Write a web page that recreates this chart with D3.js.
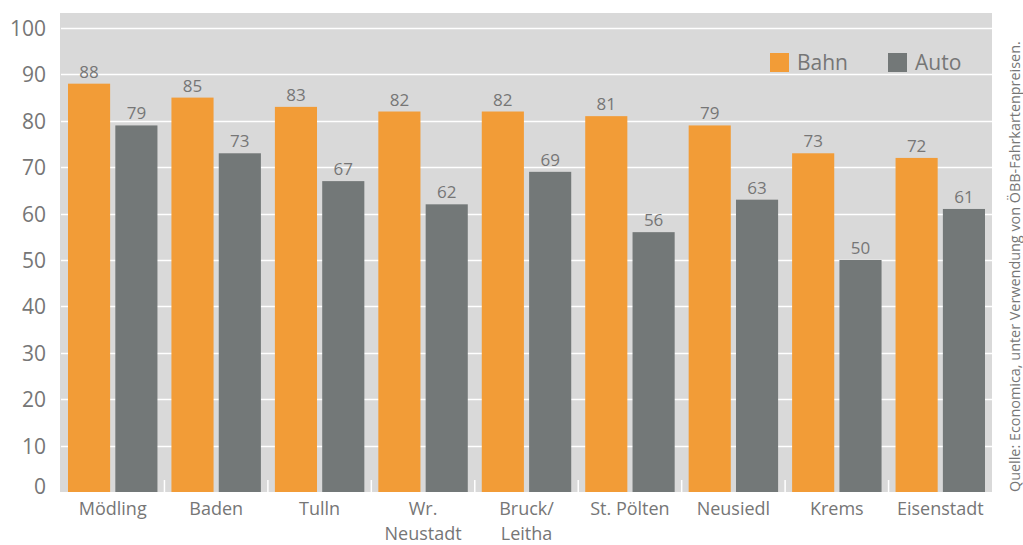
<!DOCTYPE html>
<html><head><meta charset="utf-8">
<script src="https://cdn.jsdelivr.net/npm/d3@7"></script>
<style>body{margin:0;background:#fff}svg text{font-family:"Open Sans",sans-serif;fill:#767676}</style>
</head><body>
<script>
const categories = [["Mödling"],["Baden"],["Tulln"],["Wr.","Neustadt"],["Bruck/","Leitha"],["St. Pölten"],["Neusiedl"],["Krems"],["Eisenstadt"]];
const series = ["Bahn","Auto"];
const bahn = [88,85,83,82,82,81,79,73,72];
const auto = [79,73,67,62,69,56,63,50,61];
const yTicks = [0,10,20,30,40,50,60,70,80,90,100];
const source = "Quelle: Economica, unter Verwendung von ÖBB-Fahrkartenpreisen.";
const colors = {Bahn:"#F29C37", Auto:"#737878"};

const W=1023,H=545;
const svg=d3.select("body").append("svg").attr("width",W).attr("height",H);
const x0=61,x1=992,yTop=13,yBot=492;
const x=d3.scaleBand().domain(d3.range(categories.length)).range([x0,x1]).paddingInner(0).paddingOuter(0);
const xs=d3.scaleBand().domain(series).range([7,x.bandwidth()-7]).paddingInner(0.11);
const y=d3.scaleLinear().domain([0,100]).range([yBot,28]);

svg.append("rect").attr("x",x0-1).attr("y",yTop).attr("width",x1-x0+1).attr("height",yBot-yTop).attr("fill","#D9D9D9");
svg.append("g").selectAll("line").data(yTicks.filter(d=>d>0)).join("line")
  .attr("x1",x0).attr("x2",x1).attr("y1",d=>Math.round(y(d))+0.5).attr("y2",d=>Math.round(y(d))+0.5)
  .attr("stroke","#fff").attr("stroke-width",1.5);
// category tick marks
svg.append("g").selectAll("line").data(d3.range(1,categories.length)).join("line")
  .attr("x1",d=>x(d)).attr("x2",d=>x(d)).attr("y1",yBot-12).attr("y2",yBot)
  .attr("stroke","#fff").attr("stroke-width",1.5);

// y axis labels
const yAxis=d3.axisLeft(y).tickValues(yTicks).tickSize(0).tickPadding(0);
const ya=svg.append("g").attr("transform",`translate(46,0)`).call(yAxis);
ya.select(".domain").remove();
ya.selectAll("text").attr("font-size",21).style("fill","#767676").attr("font-family",null)
  .attr("dy",d=>d===0?"0.05em":"0.36em");

const data=[bahn,auto];
const g=svg.append("g");
series.forEach((s,si)=>{
  const vals=data[si];
  g.append("g").selectAll("rect").data(vals).join("rect")
   .attr("x",(d,i)=>x(i)+xs(s)).attr("width",xs.bandwidth())
   .attr("y",d=>y(d)).attr("height",d=>y(0)-y(d)).attr("fill",colors[s]);
  g.append("g").selectAll("text").data(vals).join("text")
   .attr("x",(d,i)=>x(i)+xs(s)+xs.bandwidth()/2).attr("y",d=>y(d)-6)
   .attr("text-anchor","middle").attr("font-size",17).text(d=>d);
});

// category labels (multi-line labels as separate text elements)
const lines=[];
categories.forEach((c,i)=>c.forEach((t,j)=>lines.push({i,j,t})));
svg.append("g").selectAll("text").data(lines).join("text")
  .attr("x",d=>x(d.i)+x.bandwidth()/2).attr("y",d=>515+d.j*25)
  .attr("text-anchor","middle").attr("font-size",18).text(d=>d.t);

// legend
const lg=svg.append("g");
[[770,"Bahn"],[888,"Auto"]].forEach(([lx,s])=>{
  lg.append("rect").attr("x",lx).attr("y",53).attr("width",19).attr("height",19).attr("fill",colors[s]);
  lg.append("text").attr("x",lx+27).attr("y",70).attr("font-size",21).text(s);
});

// source
svg.append("text").attr("transform","translate(1020,492) rotate(-90)").attr("font-size",14.4).text(source);
</script>
</body></html>
